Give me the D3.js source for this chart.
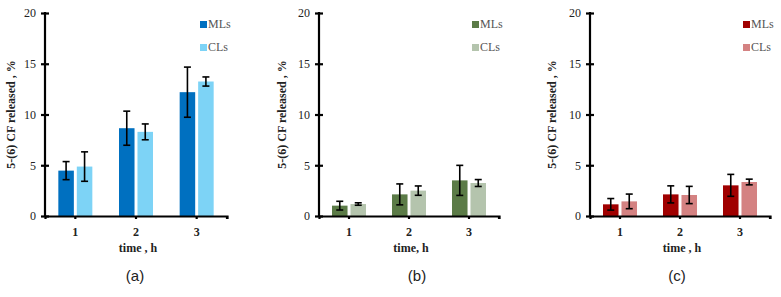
<!DOCTYPE html>
<html>
<head>
<meta charset="utf-8">
<script src="https://cdn.jsdelivr.net/npm/d3@7"></script>
<style>
  body { margin: 0; background: #fff; }
  .axis path, .axis line { stroke: #000; stroke-width: 2.2; }
  .tick text { font-family: "Liberation Serif", serif; font-size: 12px; fill: #222; }
</style>
</head>
<body>
<svg id="chart" width="781" height="297"></svg>
<script>
var times = ["1", "2", "3"];
var seriesNames = ["MLs", "CLs"];
var yTicks = [0, 5, 10, 15, 20];

// panel a
var mlA = [4.47, 8.65, 12.2];
var mlErrA = [0.89, 1.68, 2.47];
var clA = [4.87, 8.29, 13.25];
var clErrA = [1.45, 0.78, 0.45];
// panel b
var mlB = [1.02, 2.13, 3.51];
var mlErrB = [0.43, 1.03, 1.48];
var clB = [1.18, 2.5, 3.25];
var clErrB = [0.12, 0.46, 0.34];
// panel c
var mlC = [1.15, 2.13, 3.02];
var mlErrC = [0.57, 0.84, 1.08];
var clC = [1.44, 2.07, 3.35];
var clErrC = [0.72, 0.85, 0.28];

var svg = d3.select("#chart");

function drawPanel(p) {
    var g = svg.append("g").attr("transform", "translate(" + p.left + ",13)");
    var h = 203, w = p.width;

    var y = d3.scaleLinear().domain([0, 20]).range([h, 0]);
    var x = d3.scaleBand().domain(times).range([0, w]);
    var x1 = d3.scaleBand().domain(seriesNames).range([x.bandwidth() / 2 - 17, x.bandwidth() / 2 + 17]).paddingInner(0.16);

    var rows = times.map(function(t, i) {
        return [
            {t: t, s: "MLs", v: p.ml[i], e: p.mlErr[i], c: p.colors[0]},
            {t: t, s: "CLs", v: p.cl[i], e: p.clErr[i], c: p.colors[1]}
        ];
    });
    var flat = [].concat.apply([], rows);

    g.selectAll("rect.bar")
        .data(flat)
        .enter().append("rect")
        .attr("class", "bar")
        .attr("x", function(d) { return x(d.t) + x1(d.s); })
        .attr("y", function(d) { return y(d.v); })
        .attr("width", x1.bandwidth())
        .attr("height", function(d) { return y(0) - y(d.v); })
        .attr("fill", function(d) { return d.c; });

    // error bars
    var eb = g.selectAll("g.err")
        .data(flat)
        .enter().append("g")
        .attr("class", "err")
        .attr("stroke", "#000")
        .attr("stroke-width", 1.6);
    eb.append("line")
        .attr("x1", function(d) { return x(d.t) + x1(d.s) + x1.bandwidth() / 2; })
        .attr("x2", function(d) { return x(d.t) + x1(d.s) + x1.bandwidth() / 2; })
        .attr("y1", function(d) { return y(d.v + d.e); })
        .attr("y2", function(d) { return y(d.v - d.e); });
    [1, -1].forEach(function(sgn) {
        eb.append("line")
            .attr("x1", function(d) { return x(d.t) + x1(d.s) + x1.bandwidth() / 2 - 3.5; })
            .attr("x2", function(d) { return x(d.t) + x1(d.s) + x1.bandwidth() / 2 + 3.5; })
            .attr("y1", function(d) { return y(d.v + sgn * d.e); })
            .attr("y2", function(d) { return y(d.v + sgn * d.e); });
    });

    // y axis with crossing ticks
    var ya = g.append("g")
        .attr("class", "axis")
        .call(d3.axisLeft(y).tickValues(yTicks).tickSizeInner(4).tickSizeOuter(0).tickPadding(6));
    ya.selectAll(".tick line").attr("x2", 4).attr("x1", -4);
    ya.select(".domain").attr("d", "M0," + (y(20) - 1) + "V" + h);
    ya.selectAll(".tick text").attr("x", -9);

    var xa = g.append("g")
        .attr("class", "axis")
        .attr("transform", "translate(0," + h + ")")
        .call(d3.axisBottom(x).tickSizeInner(3).tickSizeOuter(3).tickPadding(8));
    xa.selectAll(".tick text").style("font-weight", "bold").style("font-size", "12px");
    xa.append("line").attr("x1", w).attr("x2", w).attr("y1", 0).attr("y2", 3);

    g.append("text")
        .attr("transform", "translate(" + (p.ylabX - p.left) + "," + (h / 2) + ") rotate(-90)")
        .attr("text-anchor", "middle")
        .attr("font-family", "Liberation Serif, serif")
        .attr("font-weight", "bold")
        .attr("font-size", "12px")
        .attr("fill", "#222")
        .text("5-(6) CF released , %");

    g.append("text")
        .attr("x", w / 2 + 2)
        .attr("y", h + 36)
        .attr("text-anchor", "middle")
        .attr("font-family", "Liberation Serif, serif")
        .attr("font-weight", "bold")
        .attr("font-size", "12px")
        .attr("fill", "#222")
        .text(p.xlabel);

    // legend
    var lg = g.selectAll("g.leg")
        .data(seriesNames)
        .enter().append("g")
        .attr("class", "leg")
        .attr("transform", function(d, i) { return "translate(" + (w - 27) + "," + (8 + i * 23) + ")"; });
    lg.append("rect").attr("width", 7).attr("height", 7).attr("y", 0)
        .attr("fill", function(d, i) { return p.colors[i]; });
    lg.append("text").attr("x", 8).attr("y", 7)
        .attr("font-family", "Liberation Serif, serif")
        .attr("font-size", "12px")
        .attr("fill", "#555")
        .text(function(d) { return d; });

    svg.append("text")
        .attr("x", p.capX)
        .attr("y", 281)
        .attr("text-anchor", "middle")
        .attr("font-family", "Liberation Sans, Arial, sans-serif")
        .attr("font-size", "15px")
        .attr("fill", "#222")
        .text(p.caption);
}

drawPanel({left: 45, width: 182, ml: mlA, mlErr: mlErrA, cl: clA, clErr: clErrA,
    colors: ["#0070C0", "#7DD3F6"], xlabel: "time , h", caption: "(a)", capX: 135, ylabX: 15});
drawPanel({left: 319, width: 180, ml: mlB, mlErr: mlErrB, cl: clB, clErr: clErrB,
    colors: ["#5B7B47", "#B4C4AD"], xlabel: "time, h", caption: "(b)", capX: 417, ylabX: 286});
drawPanel({left: 590, width: 180, ml: mlC, mlErr: mlErrC, cl: clC, clErr: clErrC,
    colors: ["#A00000", "#D48282"], xlabel: "time , h", caption: "(c)", capX: 677, ylabX: 556});
</script>
</body>
</html>
